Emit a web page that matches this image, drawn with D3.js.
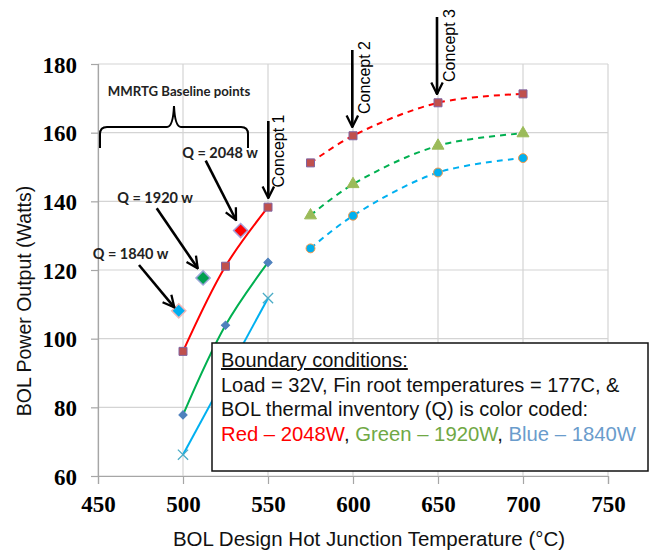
<!DOCTYPE html>
<html>
<head>
<meta charset="utf-8">
<script src="https://cdn.jsdelivr.net/npm/d3@7"></script>
<style>
  body { margin: 0; background: #fff; }
  svg { display: block; }
</style>
</head>
<body>
<div id="chart"></div>
<script>
// chart values
const solidTemps = [500, 525, 550];
const redSolid = [96.3, 121.1, 138.3];
const greenSolid = [77.8, 103.9, 122.2];
const blueSolidTemps = [500, 550];
const blueSolid = [66.2, 111.8];

const dashTemps = [575, 600, 650, 700];
const redDash = [151.2, 159.1, 168.7, 171.3];
const greenDash = [135.9, 145.0, 156.2, 159.8];
const blueDash = [126.3, 135.8, 148.4, 152.6];

// MMRTG baseline points
const baseTemps = [497.5, 511.8, 533.9];
const baseValues = [108.1, 117.7, 131.5];
const baseLabels = ["Q = 1840 w", "Q = 1920 w", "Q = 2048 w"];

const xTicks = [450, 500, 550, 600, 650, 700, 750];
const yTicks = [60, 80, 100, 120, 140, 160, 180];

const width = 649;
const height = 550;
const margin = {left: 98, right: 41, top: 64, bottom: 74};

const svg = d3.select("#chart")
  .append("svg")
  .attr("width", width)
  .attr("height", height);

const x = d3.scaleLinear()
  .domain([450, 750])
  .range([margin.left, width - margin.right]);

const y = d3.scaleLinear()
  .domain([60, 180])
  .range([height - margin.bottom, margin.top]);

// grid
svg.append("g")
  .selectAll("line")
  .data(xTicks)
  .join("line")
    .attr("x1", d => x(d)).attr("x2", d => x(d))
    .attr("y1", y(180)).attr("y2", y(60))
    .attr("stroke", "#d4d4d4").attr("stroke-width", 1.2);

svg.append("g")
  .selectAll("line")
  .data(yTicks)
  .join("line")
    .attr("x1", x(450)).attr("x2", x(750))
    .attr("y1", d => y(d)).attr("y2", d => y(d))
    .attr("stroke", "#d4d4d4").attr("stroke-width", 1.2);

// axes
const xAxis = svg.append("g")
  .attr("transform", `translate(0,${y(60)})`)
  .call(d3.axisBottom(x).tickValues(xTicks).tickSize(8).tickPadding(12));
const yAxis = svg.append("g")
  .attr("transform", `translate(${x(450)},0)`)
  .call(d3.axisLeft(y).tickValues(yTicks).tickSize(7).tickPadding(14));

[xAxis, yAxis].forEach(g => {
  g.select(".domain").attr("stroke", "#a6a6a6").attr("stroke-width", 1.2);
  g.selectAll(".tick line").attr("stroke", "#a6a6a6").attr("stroke-width", 1.2);
  g.selectAll(".tick text")
    .attr("fill", "#000")
    .attr("font-family", "'Liberation Serif', 'Times New Roman', serif")
    .attr("font-weight", "bold")
    .attr("font-size", "23px");
});
yAxis.selectAll(".tick text").attr("dy", "0.36em");

// axis titles
svg.append("text")
  .attr("x", (x(450) + x(750)) / 2 + 16)
  .attr("y", 546)
  .attr("text-anchor", "middle")
  .attr("font-family", "'Liberation Sans', Arial, sans-serif")
  .attr("font-size", "20.5px")
  .attr("fill", "#111")
  .text("BOL Design Hot Junction Temperature (°C)");

svg.append("text")
  .attr("transform", "translate(31,301) rotate(-90)")
  .attr("text-anchor", "middle")
  .attr("font-family", "'Liberation Sans', Arial, sans-serif")
  .attr("font-size", "19.5px")
  .attr("fill", "#111")
  .text("BOL Power Output (Watts)");

// series lines
const solidLine = d3.line().x(d => x(d[0])).y(d => y(d[1])).curve(d3.curveCatmullRom);
const zip = (a, b) => a.map((t, i) => [t, b[i]]);

const lines = [
  {pts: zip(solidTemps, redSolid), color: "#ff0000", dash: null},
  {pts: zip(solidTemps, greenSolid), color: "#00b050", dash: null},
  {pts: zip(blueSolidTemps, blueSolid), color: "#00b0f0", dash: null},
  {pts: zip(dashTemps, redDash), color: "#ff0000", dash: "6,5"},
  {pts: zip(dashTemps, greenDash), color: "#00b050", dash: "6,5"},
  {pts: zip(dashTemps, blueDash), color: "#00b0f0", dash: "6,5"}
];

svg.append("g")
  .selectAll("path")
  .data(lines)
  .join("path")
    .attr("d", d => solidLine(d.pts))
    .attr("fill", "none")
    .attr("stroke", d => d.color)
    .attr("stroke-width", 2)
    .attr("stroke-dasharray", d => d.dash);

// markers
const square = d3.symbol().type(d3.symbolSquare).size(64);
const smallDiamond = d3.symbol().type(d3.symbolSquare).size(34);
const triangle = d3.symbol().type(d3.symbolTriangle).size(62);
const circle = d3.symbol().type(d3.symbolCircle).size(62);
const cross = d3.symbol().type(d3.symbolX).size(70);

function markers(pts, sym, fill, stroke, rot) {
  svg.append("g")
    .selectAll("path")
    .data(pts)
    .join("path")
      .attr("transform", d => `translate(${x(d[0])},${y(d[1])}) rotate(${rot || 0})`)
      .attr("d", sym)
      .attr("fill", fill)
      .attr("stroke", stroke)
      .attr("stroke-width", 1);
}

markers(zip(solidTemps, redSolid), square, "#c0504d", "#8064a2");
markers(zip(dashTemps, redDash), square, "#c0504d", "#8064a2");
markers(zip(solidTemps, greenSolid), smallDiamond, "#4f81bd", "#4f81bd", 45);
markers(zip(dashTemps, greenDash), triangle, "#9bbb59", "#9bbb59");
markers(zip(dashTemps, blueDash), circle, "#00b0f0", "#f79646");
svg.append("g")
  .selectAll("path")
  .data(zip(blueSolidTemps, blueSolid))
  .join("path")
    .attr("transform", d => `translate(${x(d[0])},${y(d[1])})`)
    .attr("d", cross)
    .attr("fill", "none")
    .attr("stroke", "#4bacc6")
    .attr("stroke-width", 1.3);

// baseline diamonds
const bigDiamond = d3.symbol().type(d3.symbolSquare).size(100);
const baseFill = ["#00b0f0", "#00a050", "#ff0000"];
const baseStroke = ["#f2b8b8", "#9aa6d8", "#a89ed8"];
svg.append("g")
  .selectAll("path")
  .data(baseTemps)
  .join("path")
    .attr("transform", (d, i) => `translate(${x(d)},${y(baseValues[i])}) rotate(45)`)
    .attr("d", bigDiamond)
    .attr("fill", (d, i) => baseFill[i])
    .attr("stroke", (d, i) => baseStroke[i])
    .attr("stroke-width", 1.5);

// arrows
svg.append("defs").append("marker")
  .attr("id", "head")
  .attr("viewBox", "0 0 10 10")
  .attr("refX", 9).attr("refY", 5)
  .attr("markerWidth", 5.5).attr("markerHeight", 5.5)
  .attr("markerUnits", "strokeWidth")
  .attr("orient", "auto")
  .append("path")
    .attr("d", "M1,1 L9,5 L1,9")
    .attr("fill", "none")
    .attr("stroke", "#000")
    .attr("stroke-width", 1.6);

const arrows = [
  [268.3, 121, 268.3, 198],
  [352.3, 50, 352.3, 127],
  [437, 17, 437, 94],
  [205.7, 160.7, 236, 220],
  [156.7, 208.3, 197.7, 268.3],
  [139, 265, 174.3, 307.3]
];
svg.append("g")
  .selectAll("line")
  .data(arrows)
  .join("line")
    .attr("x1", d => d[0]).attr("y1", d => d[1])
    .attr("x2", d => d[2]).attr("y2", d => d[3])
    .attr("stroke", "#000")
    .attr("stroke-width", 2.6)
    .attr("marker-end", "url(#head)");

// concept labels
const concepts = [["Concept 1", 283.5, 151], ["Concept 2", 369.5, 77.5], ["Concept 3", 454.5, 45.5]];
svg.append("g")
  .selectAll("text")
  .data(concepts)
  .join("text")
    .attr("transform", d => `translate(${d[1]},${d[2]}) rotate(-90)`)
    .attr("text-anchor", "middle")
    .attr("font-family", "'Liberation Sans', Arial, sans-serif")
    .attr("font-size", "16px")
    .attr("fill", "#000")
    .text(d => d[0]);

// Q labels
const qPos = [[130.5, 259], [155, 202.5], [220, 158]];
svg.append("g")
  .selectAll("text")
  .data(baseLabels)
  .join("text")
    .attr("x", (d, i) => qPos[i][0])
    .attr("y", (d, i) => qPos[i][1])
    .attr("text-anchor", "middle")
    .attr("font-family", "Lato, 'Open Sans', sans-serif")
    .attr("font-weight", "bold")
    .attr("font-size", "14.5px")
    .attr("fill", "#222")
    .text(d => d);

// brace + label
svg.append("text")
  .attr("x", 179).attr("y", 96)
  .attr("text-anchor", "middle")
  .attr("font-family", "Lato, 'Open Sans', sans-serif")
  .attr("font-weight", "bold")
  .attr("font-size", "13.2px")
  .attr("fill", "#222")
  .text("MMRTG Baseline points");

svg.append("path")
  .attr("d", "M100,148 L100,134 Q100,127 107,127 L167,127 Q173,127 174,106 Q175,127 181,127 L241,127 Q248,127 248,134 L248,148")
  .attr("fill", "none")
  .attr("stroke", "#000")
  .attr("stroke-width", 2);

// boundary conditions box
const box = svg.append("g");
box.append("rect")
  .attr("x", 212).attr("y", 343)
  .attr("width", 436).attr("height", 128)
  .attr("fill", "#fff")
  .attr("stroke", "#111")
  .attr("stroke-width", 1.5);

const boxFont = "'Liberation Sans', Arial, sans-serif";
const boxLines = [
  "Boundary conditions:",
  "Load = 32V, Fin root temperatures = 177C, &",
  "BOL thermal inventory (Q) is color coded:"
];
box.selectAll("text.l")
  .data(boxLines)
  .join("text")
    .attr("class", "l")
    .attr("x", 221)
    .attr("y", (d, i) => 367 + i * 24.5)
    .attr("font-family", boxFont)
    .attr("font-size", "20px")
    .attr("fill", "#111")
    .attr("text-decoration", (d, i) => i === 0 ? "underline" : null)
    .text(d => d);

const colorLine = box.append("text")
  .attr("x", 221).attr("y", 440.5)
  .attr("font-family", boxFont)
  .attr("font-size", "20.3px");
colorLine.append("tspan").attr("fill", "#ff0000").text("Red – 2048W");
colorLine.append("tspan").attr("fill", "#111").text(", ");
colorLine.append("tspan").attr("fill", "#70a845").text("Green – 1920W");
colorLine.append("tspan").attr("fill", "#111").text(", ");
colorLine.append("tspan").attr("fill", "#6a9ccc").text("Blue – 1840W");
</script>
</body>
</html>
